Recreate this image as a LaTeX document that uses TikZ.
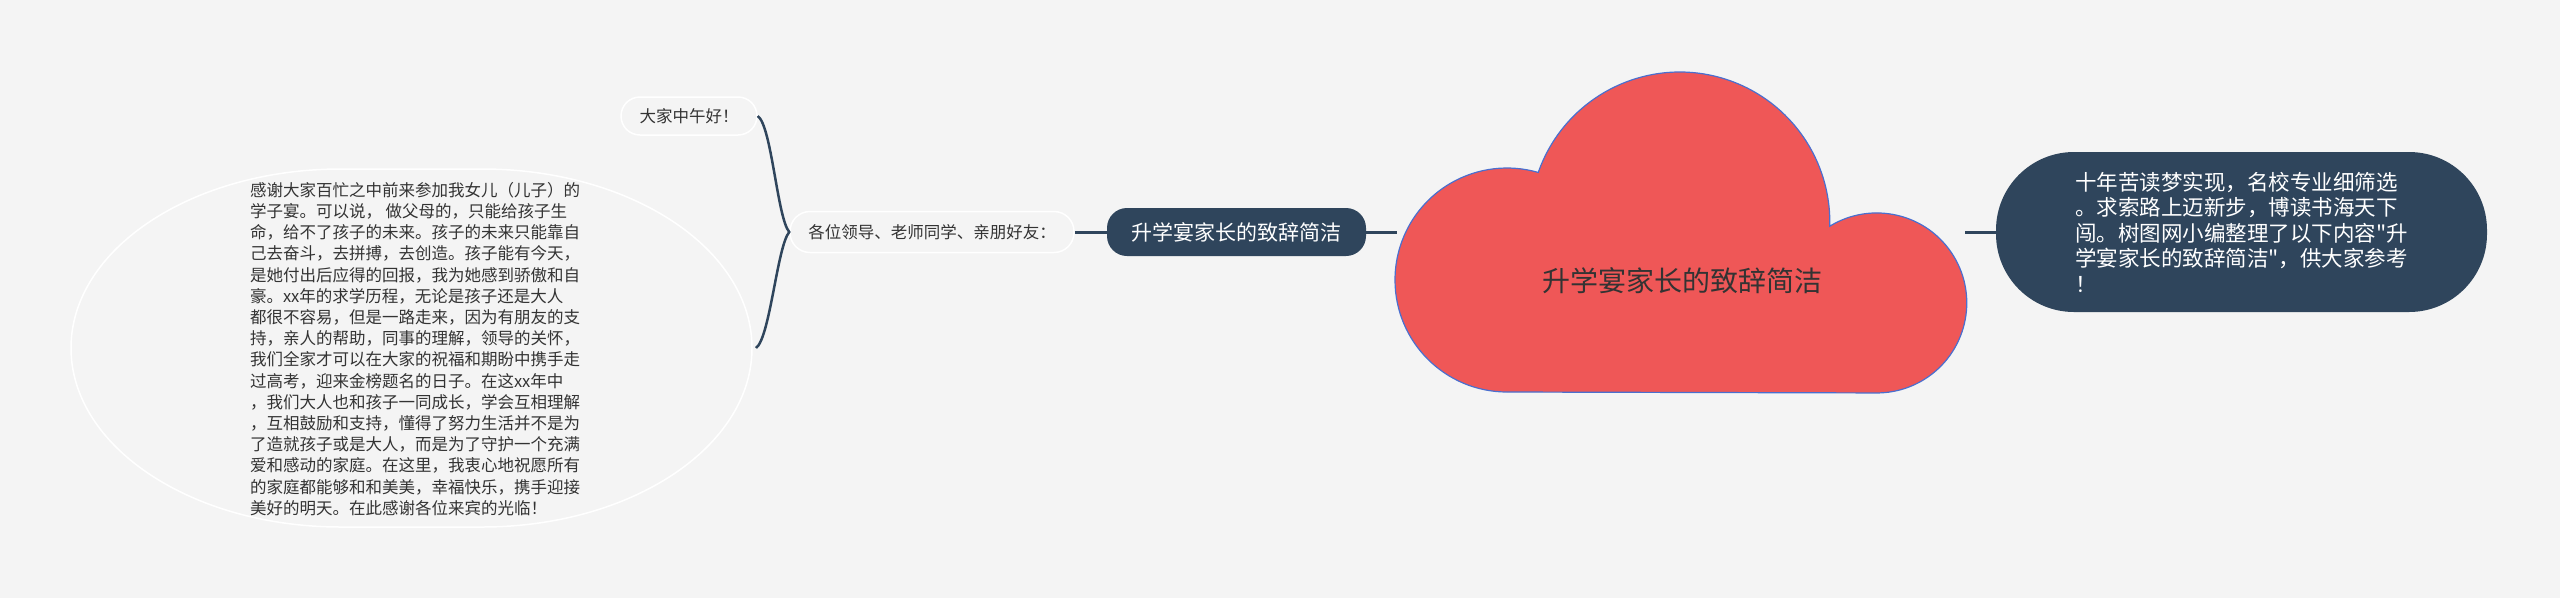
\documentclass[tikz,border=0pt]{standalone}
\usepackage{fontspec}
\setmainfont{Noto Sans CJK SC}[Ligatures=TeXOff]
\usepackage{tikz}
\definecolor{bgcol}{HTML}{F4F4F4}
\definecolor{nodeblue}{HTML}{2F455C}
\definecolor{cloudred}{HTML}{EF5757}
\definecolor{cloudline}{HTML}{4A6FCF}
\definecolor{txtgray}{HTML}{333333}
\tikzset{
  topic/.style={fill=nodeblue,text=white,inner sep=0pt,align=left},
  leaf/.style={draw=white,line width=1.5pt,text=txtgray,inner sep=0pt,font=\fontsize{16.5}{21.2}\selectfont},
  link/.style={nodeblue,line width=3pt},
}
\begin{document}
\begin{tikzpicture}[x=1pt,y=1pt]
\fill[bgcol] (0,0) rectangle (2560,-598);
\useasboundingbox (0,0) rectangle (2560,-598);
% left side
\node[leaf,minimum width=136pt,minimum height=38pt,rounded corners=19pt] (hello) at (689,-116) {大家中午好！};
\node[leaf,minimum width=284pt,minimum height=41pt,rounded corners=20pt] (greet) at (932,-232) {各位领导、老师同学、亲朋好友：};
\draw[white,line width=1.5pt] (341,-169) -- (482,-169) arc[start angle=90,end angle=-90,x radius=270pt,y radius=179pt]
    -- (341,-527) arc[start angle=270,end angle=90,x radius=270pt,y radius=179pt] -- cycle;
\node[text=txtgray,align=left,inner sep=0pt,font=\fontsize{16.5}{21.2}\selectfont] (speech) at (415,-349) {感谢大家百忙之中前来参加我女儿（儿子）的\\
学子宴。可以说，\ 做父母的，只能给孩子生\\
命，给不了孩子的未来。孩子的未来只能靠自\\
己去奋斗，去拼搏，去创造。孩子能有今天，\\
是她付出后应得的回报，我为她感到骄傲和自\\
豪。xx年的求学历程，无论是孩子还是大人\\
都很不容易，但是一路走来，因为有朋友的支\\
持，亲人的帮助，同事的理解，领导的关怀，\\
我们全家才可以在大家的祝福和期盼中携手走\\
过高考，迎来金榜题名的日子。在这xx年中\\
，我们大人也和孩子一同成长，学会互相理解\\
，互相鼓励和支持，懂得了努力生活并不是为\\
了造就孩子或是大人，而是为了守护一个充满\\
爱和感动的家庭。在这里，我衷心地祝愿所有\\
的家庭都能够和和美美，幸福快乐，携手迎接\\
美好的明天。在此感谢各位来宾的光临！};
\coordinate (speechE) at (756,-348);
% middle and right
\node[topic,minimum width=259pt,minimum height=48pt,rounded corners=20pt,font=\fontsize{21}{25}\selectfont] (title) at (1236.5,-232) {升学宴家长的致辞简洁};
\coordinate (cloudW) at (1397,-232);
\coordinate (cloudE) at (1965,-232);
\node[topic,minimum width=491pt,minimum height=160pt,rounded corners=78pt,font=\fontsize{21.5}{25.5}\selectfont] (intro) at (2241.5,-232) {十年苦读梦实现，名校专业细筛选\\
。求索路上迈新步，博读书海天下\\
闯。树图网小编整理了以下内容"升\\
学宴家长的致辞简洁"，供大家参考\\
！};
\draw[link] (greet) -- (title);
\draw[link] (title) -- (cloudW);
\draw[link] (cloudE) -- (intro);
\draw[nodeblue,line width=2.5pt] (hello.east) .. controls +(14,-10) and +(-12,14) .. (greet.west)
    .. controls +(-12,-14) and +(14,10) .. (speechE);
% cloud
\draw[fill=cloudred,draw=cloudline,line width=1.2pt] (1507,-392) arc[start angle=-90,end angle=-286.2,radius=112pt]
    arc[start angle=160.7,end angle=-1.6,radius=150pt] arc[start angle=121.5,end angle=-90,radius=90pt] -- cycle;
\node[text=txtgray,font=\fontsize{28}{32}\selectfont] (cloudtxt) at (1682,-281) {升学宴家长的致辞简洁};
\end{tikzpicture}
\end{document}
